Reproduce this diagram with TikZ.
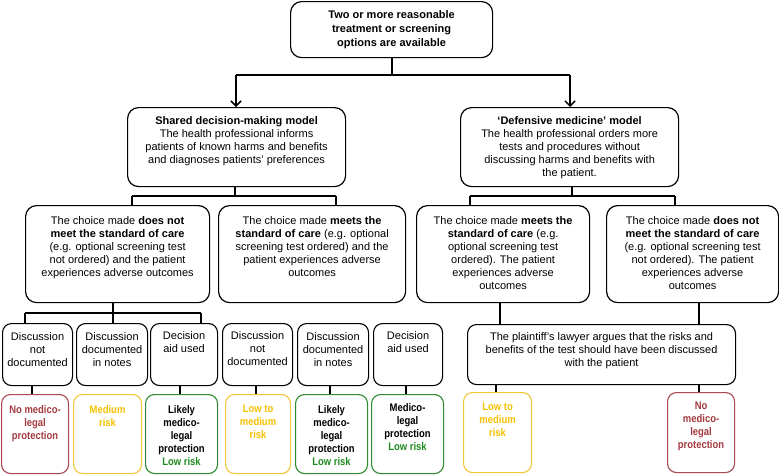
\documentclass[tikz,border=0pt]{standalone}
\usepackage{fontspec}
\setmainfont{Liberation Sans}
\newfontfamily\narrowsans[FakeStretch=0.86]{Liberation Sans}
\usetikzlibrary{arrows.meta,calc}
\definecolor{rbord}{HTML}{A8484F}
\definecolor{rtext}{HTML}{A33A3F}
\definecolor{ybord}{HTML}{F3C63A}
\definecolor{ytext}{HTML}{F5C000}
\definecolor{gbord}{HTML}{2E8B2E}
\definecolor{gtext}{HTML}{1E8A1E}
\tikzset{
  bigbox/.style={draw, line width=1.2pt, rounded corners=11pt, inner sep=0pt, anchor=north west},
  smallbox/.style={draw, line width=1.1pt, rounded corners=9pt, inner sep=0pt, anchor=north west},
  redbox/.style={smallbox, draw=rbord},
  yelbox/.style={smallbox, draw=ybord},
  grnbox/.style={smallbox, draw=gbord},
  txt/.style={align=center, font=\fontsize{11}{13}\selectfont, inner sep=0pt, anchor=north},
  risktxt/.style={align=center, font=\narrowsans\fontsize{11}{13}\selectfont\bfseries, inner sep=0pt, anchor=north},
  conn/.style={line width=1.5pt},
  arr/.style={line width=1.5pt, -{Straight Barb[length=5pt,width=10pt]}},
}
\begin{document}
\begin{tikzpicture}[x=1pt,y=-1pt]
\useasboundingbox (0,0) rectangle (779,475);
% top
\node[bigbox, minimum width=202pt, minimum height=56pt] (T) at (290,1) {};
\node[txt, anchor=center, font=\fontsize{11}{14}\selectfont\bfseries] (Tt) at (T.center) {Two or more reasonable\\treatment or screening\\options are available};
% models
\node[bigbox, minimum width=218pt, minimum height=79pt] (S) at (127,107) {};
\node[txt, below=9.5pt] (St) at (S.north) {\textbf{Shared decision-making model}\\The health professional informs\\patients of known harms and benefits\\and diagnoses patients’ preferences};
\node[bigbox, minimum width=218pt, minimum height=79pt] (D) at (460,107) {};
\node[txt, below=9.5pt] (Dt) at (D.north) {\textbf{‘Defensive medicine’ model}\\The health professional orders more\\tests and procedures without\\discussing harms and benefits with\\the patient.};
% level 2
\node[bigbox, minimum width=184pt, minimum height=97pt] (L1) at (25,205) {};
\node[txt, below=11pt] (L1t) at (L1.north) {The choice made \textbf{does not}\\\textbf{meet the standard of care}\\(e.g. optional screening test\\not ordered) and the patient\\experiences adverse outcomes};
\node[bigbox, minimum width=187pt, minimum height=97pt] (L2) at (218,205) {};
\node[txt, below=11pt] (L2t) at (L2.north) {The choice made \textbf{meets the}\\\textbf{standard of care} (e.g. optional\\screening test ordered) and the\\patient experiences adverse\\outcomes};
\node[bigbox, minimum width=173pt, minimum height=97pt] (L3) at (416,205) {};
\node[txt, below=11pt] (L3t) at (L3.north) {The choice made \textbf{meets the}\\\textbf{standard of care} (e.g.\\optional screening test\\ordered). The patient\\experiences adverse\\outcomes};
\node[bigbox, minimum width=172pt, minimum height=97pt] (L4) at (606,205) {};
\node[txt, below=11pt] (L4t) at (L4.north) {The choice made \textbf{does not}\\\textbf{meet the standard of care}\\(e.g. optional screening test\\not ordered). The patient\\experiences adverse\\outcomes};
% level 3
\node[smallbox, minimum width=70pt, minimum height=62pt] (b1) at (2,323) {};
\node[txt, below=9.5pt] (b1t) at (b1.north) {Discussion\\not\\documented};
\node[smallbox, minimum width=71pt, minimum height=62pt] (b2) at (76,323) {};
\node[txt, below=9.5pt] (b2t) at (b2.north) {Discussion\\documented\\in notes};
\node[smallbox, minimum width=67pt, minimum height=62pt] (b3) at (150,323) {};
\node[txt, below=8.5pt] (b3t) at (b3.north) {Decision\\aid used};
\node[smallbox, minimum width=70pt, minimum height=62pt] (b4) at (222,323) {};
\node[txt, below=8.5pt] (b4t) at (b4.north) {Discussion\\not\\documented};
\node[smallbox, minimum width=71pt, minimum height=62pt] (b5) at (297,323) {};
\node[txt, below=9pt] (b5t) at (b5.north) {Discussion\\documented\\in notes};
\node[smallbox, minimum width=69pt, minimum height=62pt] (b6) at (373,323) {};
\node[txt, below=8.5pt] (b6t) at (b6.north) {Decision\\aid used};
\node[smallbox, minimum width=268pt, minimum height=60pt] (LW) at (467,324) {};
\node[txt, below=8.5pt] (LWt) at (LW.north) {The plaintiff’s lawyer argues that the risks and\\benefits of the test should have been discussed\\with the patient};
% risk boxes
\node[redbox, minimum width=67pt, minimum height=79pt] (r1) at (1,394) {};
\node[risktxt, text=rtext, below=11pt] (r1t) at (r1.north) {No medico-\\legal\\protection};
\node[yelbox, minimum width=68pt, minimum height=79pt] (r2) at (73,394) {};
\node[risktxt, text=ytext, below=11pt] (r2t) at (r2.north) {Medium\\risk};
\node[grnbox, minimum width=72pt, minimum height=79pt] (r3) at (145,394) {};
\node[risktxt, below=11pt] (r3t) at (r3.north) {Likely\\medico-\\legal\\protection\\\textcolor{gtext}{Low risk}};
\node[yelbox, minimum width=65pt, minimum height=79pt] (r4) at (225,394) {};
\node[risktxt, text=ytext, below=11pt] (r4t) at (r4.north) {Low to\\medium\\risk};
\node[grnbox, minimum width=72pt, minimum height=79pt] (r5) at (295,394) {};
\node[risktxt, below=11pt] (r5t) at (r5.north) {Likely\\medico-\\legal\\protection\\\textcolor{gtext}{Low risk}};
\node[grnbox, minimum width=72pt, minimum height=79pt] (r6) at (371,394) {};
\node[risktxt, below=9.5pt] (r6t) at (r6.north) {Medico-\\legal\\protection\\\textcolor{gtext}{Low risk}};
\node[yelbox, minimum width=68pt, minimum height=80pt] (r7) at (463,392) {};
\node[risktxt, text=ytext, below=11pt] (r7t) at (r7.north) {Low to\\medium\\risk};
\node[redbox, minimum width=67pt, minimum height=80pt] (r8) at (667,392) {};
\node[risktxt, text=rtext, below=10pt] (r8t) at (r8.north) {No\\medico-\\legal\\protection};
% connectors top
\coordinate (tj) at (392,75);
\coordinate (tjL) at (236,75);
\coordinate (tjR) at (570,75);
\draw[conn] (T.south -| tj) -- (tj);
\draw[conn] (tjL) -- (tjR);
\draw[arr] (tjL) -- (tjL |- S.north);
\draw[arr] (tjR) -- (tjR |- D.north);
% shared model to level 2
\coordinate (sj) at (235,196);
\coordinate (sjL) at (132,196);
\coordinate (sjR) at (336,196);
\draw[conn] (S.south -| sj) -- (sj);
\draw[conn] (sjL) -- (sjR);
\draw[conn] (sjL) -- (sjL |- L1.north);
\draw[conn] (sjR) -- (sjR |- L2.north);
% defensive model to level 2
\coordinate (dj) at (572,196);
\coordinate (djL) at (470,196);
\coordinate (djR) at (675,196);
\draw[conn] (D.south -| dj) -- (dj);
\draw[conn] (djL) -- (djR);
\draw[conn] (djL) -- (djL |- L3.north);
\draw[conn] (djR) -- (djR |- L4.north);
% L1 to level 3
\coordinate (lj) at (113,313);
\coordinate (ljL) at (25,313);
\coordinate (ljR) at (201,313);
\draw[conn] (L1.south -| lj) -- (lj |- b2.north);
\draw[conn] (ljL) -- (ljR);
\draw[conn] (ljL) -- (ljL |- b1.north);
\draw[conn] (ljR) -- (ljR |- b3.north);
% L3, L4 to lawyer
\coordinate (mj3) at (500,313);
\coordinate (mj4) at (699,313);
\draw[conn] (L3.south -| mj3) -- (mj3 |- LW.north);
\draw[conn] (L4.south -| mj4) -- (mj4 |- LW.north);
% level 3 to risk
\coordinate (c1) at (32,390);
\coordinate (c3) at (180,390);
\coordinate (c4) at (256,390);
\coordinate (c5) at (330,390);
\coordinate (c6) at (406,390);
\coordinate (c7) at (496,390);
\coordinate (c8) at (699,390);
\draw[conn] (b1.south -| c1) -- (r1.north -| c1);
\draw[conn] (b3.south -| c3) -- (r3.north -| c3);
\draw[conn] (b4.south -| c4) -- (r4.north -| c4);
\draw[conn] (b5.south -| c5) -- (r5.north -| c5);
\draw[conn] (b6.south -| c6) -- (r6.north -| c6);
\draw[conn] (LW.south -| c7) -- (r7.north -| c7);
\draw[conn] (LW.south -| c8) -- (r8.north -| c8);
\end{tikzpicture}
\end{document}
